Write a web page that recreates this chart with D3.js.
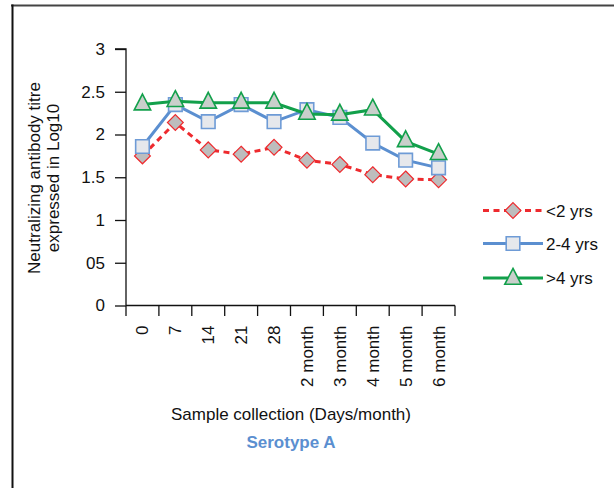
<!DOCTYPE html>
<html>
<head>
<meta charset="utf-8">
<script src="https://cdn.jsdelivr.net/npm/d3@7"></script>
<style>
  html, body { margin: 0; padding: 0; background: #fff; }
  svg { display: block; font-family: "Liberation Sans", Arial, sans-serif; }
</style>
</head>
<body>
<svg id="chart" width="614" height="488"></svg>
<script>
// Sampling points (days after vaccination, then months)
const categories = ["0", "7", "14", "21", "28", "2 month", "3 month", "4 month", "5 month", "6 month"];

// Mean neutralizing antibody titre (log10) per age group
const under2 = [1.75, 2.14, 1.82, 1.77, 1.85, 1.70, 1.65, 1.53, 1.48, 1.47];
const age2to4 = [1.86, 2.35, 2.15, 2.35, 2.15, 2.29, 2.20, 1.90, 1.70, 1.61];
const over4 = [2.35, 2.39, 2.37, 2.37, 2.37, 2.24, 2.23, 2.29, 1.92, 1.77];

// Y axis ticks and their printed labels
const yTicks = [0, 0.5, 1, 1.5, 2, 2.5, 3];
const yTickLabels = ["0", "05", "1", "1.5", "2", "2.5", "3"];

const seriesNames = ["<2 yrs", "2-4 yrs", ">4 yrs"];

const FONT = 17;
const svg = d3.select("#chart");

// Frame lines (top and left)
svg.append("line").attr("x1", 11).attr("x2", 614).attr("y1", 5.5).attr("y2", 5.5)
  .attr("stroke", "#444").attr("stroke-width", 2);
svg.append("line").attr("x1", 12.5).attr("x2", 12.5).attr("y1", 4.5).attr("y2", 488)
  .attr("stroke", "#111").attr("stroke-width", 2);

const plotLeft = 126, plotRight = 455, plotTop = 49, plotBottom = 305.5;

const x = d3.scaleBand().domain(categories).range([plotLeft, plotRight]).padding(0);
const y = d3.scaleLinear().domain([0, 3]).range([plotBottom, plotTop]);
const cx = d => x(d) + x.bandwidth() / 2;

// Y axis
const yAxis = svg.append("g").attr("transform", `translate(${plotLeft},0)`)
  .call(d3.axisLeft(y).tickValues(yTicks).tickSize(11).tickPadding(10)
    .tickFormat((d, i) => yTickLabels[i]));
yAxis.select(".domain").attr("d", `M-11,${y(3)}H0V${y(0)}`).attr("stroke", "#111").attr("stroke-width", 1.3);
yAxis.selectAll(".tick line").attr("stroke", "#111").attr("stroke-width", 1.3);
yAxis.selectAll(".tick text").attr("font-size", FONT).attr("fill", "#111")
  .attr("font-family", "Liberation Sans, Arial, sans-serif");

// X axis: ticks at category boundaries, labels at category centres
const xAxisG = svg.append("g").attr("transform", `translate(0,${plotBottom})`);
xAxisG.append("line").attr("x1", plotLeft).attr("x2", plotRight).attr("y1", 0).attr("y2", 0)
  .attr("stroke", "#111").attr("stroke-width", 1.3);
const bounds = categories.map(c => x(c)).concat([plotRight]);
xAxisG.selectAll("line.tk").data(bounds).join("line").attr("class", "tk")
  .attr("x1", d => d).attr("x2", d => d).attr("y1", 0).attr("y2", 10.5)
  .attr("stroke", "#111").attr("stroke-width", 1.3);
xAxisG.selectAll("text").data(categories).join("text")
  .attr("transform", d => `translate(${cx(d) + 6},20) rotate(-90)`)
  .attr("text-anchor", "end")
  .attr("font-size", FONT).attr("fill", "#111")
  .text(d => d);

// Axis titles
svg.append("text").attr("x", 291).attr("y", 420).attr("text-anchor", "middle")
  .attr("font-size", FONT).attr("fill", "#111").text("Sample collection (Days/month)");
svg.append("text").attr("x", 291).attr("y", 448).attr("text-anchor", "middle")
  .attr("font-size", FONT).attr("font-weight", "bold").attr("fill", "#5b8fd0").text("Serotype A");

const yTitle = svg.append("text").attr("transform", "translate(0,178) rotate(-90)")
  .attr("text-anchor", "middle").attr("font-size", FONT).attr("fill", "#111");
yTitle.append("tspan").attr("x", 0).attr("y", 39.5).text("Neutralizing antibody titre");
yTitle.append("tspan").attr("x", 0).attr("y", 58.5).text("expressed in Log10");

// A triangle marker that is slightly taller than equilateral, centred on its centroid
const tallTriangle = {
  draw(context, size) {
    const h = Math.sqrt(size) * 1.25;   // total height
    const w = h * 0.52;                 // half width
    context.moveTo(0, -h * 2 / 3);
    context.lineTo(w, h / 3);
    context.lineTo(-w, h / 3);
    context.closePath();
  }
};

// Series styles
const styles = [
  { values: under2, line: "#ee2a2e", dash: "6,4.5", symbol: d3.symbolDiamond2, size: 160,
    fill: "#bdbdbd", stroke: "#ee2a2e", sw: 1.2 },
  { values: age2to4, line: "#5b8fd0", dash: null, symbol: d3.symbolSquare2, size: 235,
    fill: "#e6e8ec", stroke: "#6e9bd6", sw: 1.6 },
  { values: over4, line: "#12a04b", dash: null, symbol: tallTriangle, size: 160,
    fill: "#c9cfcb", stroke: "#12a04b", sw: 1.6 }
];

const lineGen = d3.line().x((d, i) => cx(categories[i])).y(d => y(d));

styles.forEach(s => {
  const g = svg.append("g");
  g.append("path").datum(s.values).attr("d", lineGen)
    .attr("fill", "none").attr("stroke", s.line).attr("stroke-width", 3)
    .attr("stroke-dasharray", s.dash);
  g.selectAll("path.m").data(s.values).join("path").attr("class", "m")
    .attr("transform", (d, i) => `translate(${cx(categories[i])},${y(d)})`)
    .attr("d", d3.symbol().type(s.symbol).size(s.size))
    .attr("fill", s.fill).attr("stroke", s.stroke).attr("stroke-width", s.sw);
});

// Legend
const legendRows = [210.5, 243.5, 278];
styles.forEach((s, i) => {
  const g = svg.append("g").attr("transform", `translate(0,${legendRows[i]})`);
  g.append("line").attr("x1", 483).attr("x2", 543).attr("y1", 0).attr("y2", 0)
    .attr("stroke", s.line).attr("stroke-width", 3).attr("stroke-dasharray", s.dash);
  g.append("path").attr("transform", `translate(513,${i === 2 ? 1 : 0})`)
    .attr("d", d3.symbol().type(s.symbol).size(s.size))
    .attr("fill", s.fill).attr("stroke", s.stroke).attr("stroke-width", s.sw);
  g.append("text").attr("x", 546).attr("y", 6).attr("font-size", FONT).attr("fill", "#111")
    .text(seriesNames[i]);
});
</script>
</body>
</html>
